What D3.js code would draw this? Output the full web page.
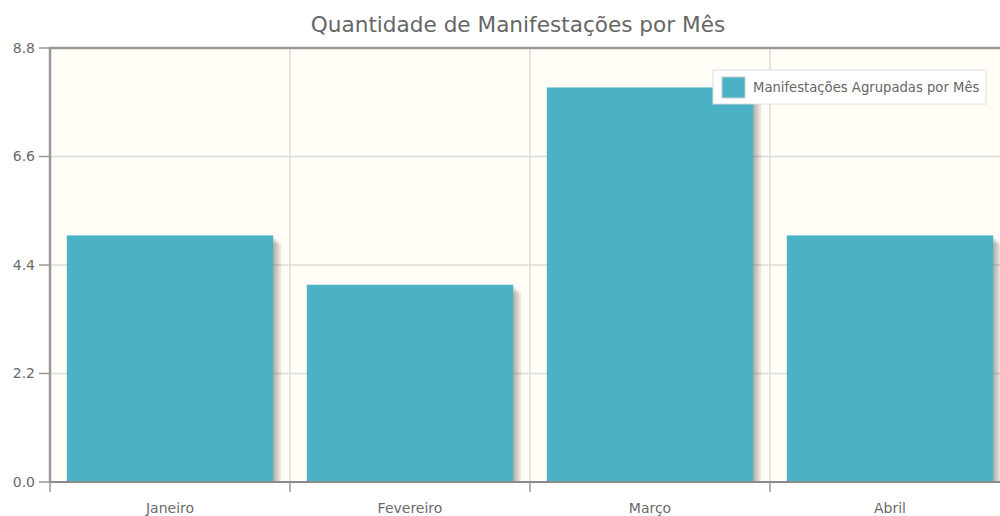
<!DOCTYPE html>
<html>
<head>
<meta charset="utf-8">
<script src="https://cdn.jsdelivr.net/npm/d3@7"></script>
<style>
  body { margin: 0; background: #fff; }
  #chart { width: 1000px; height: 516px; overflow: hidden; }
  text { font-family: "DejaVu Sans", sans-serif; }
</style>
</head>
<body>
<div id="chart"></div>
<script>
const months = ['Janeiro', 'Fevereiro', 'Março', 'Abril'];
const counts = [5, 4, 8, 5];
const yTicks = [0, 2.2, 4.4, 6.6, 8.8];
const seriesName = 'Manifestações Agrupadas por Mês';
const title = 'Quantidade de Manifestações por Mês';

const width = 1000;
const height = 516;
const plot = { left: 50, right: 1010, top: 48, bottom: 482 };
const barColor = '#4bb2c5';

const svg = d3.select('#chart').append('svg')
  .attr('width', width)
  .attr('height', height);

svg.append('defs').append('clipPath')
  .attr('id', 'plot-clip')
  .append('rect')
    .attr('x', plot.left)
    .attr('y', plot.top)
    .attr('width', plot.right - plot.left)
    .attr('height', plot.bottom - plot.top);

const x = d3.scaleBand()
  .domain(months)
  .range([plot.left, plot.right])
  .paddingInner(0.14)
  .paddingOuter(0.07);

const y = d3.scaleLinear()
  .domain([0, 8.8])
  .range([plot.bottom, plot.top]);

// plot background
svg.append('rect')
  .attr('x', plot.left)
  .attr('y', plot.top)
  .attr('width', plot.right - plot.left)
  .attr('height', plot.bottom - plot.top)
  .attr('fill', '#fffdf6');

// grid
const step = x.step();
const bounds = d3.range(1, months.length).map(i => plot.left + i * step);
svg.append('g').selectAll('line')
  .data(bounds)
  .join('line')
    .attr('x1', d => d).attr('x2', d => d)
    .attr('y1', plot.top).attr('y2', plot.bottom)
    .attr('stroke', '#dcdcd8')
    .attr('stroke-width', 1.5);

svg.append('g').selectAll('line')
  .data(yTicks.slice(1, -1))
  .join('line')
    .attr('x1', plot.left).attr('x2', plot.right)
    .attr('y1', d => y(d)).attr('y2', d => y(d))
    .attr('stroke', '#dcdcd8')
    .attr('stroke-width', 1.5);

// bar shadows (clipped to the plot area)
const shadow = svg.append('g').attr('clip-path', 'url(#plot-clip)');
[2, 4, 6, 8].forEach(off => {
  shadow.selectAll(null)
    .data(months)
    .join('rect')
      .attr('x', d => x(d) + off)
      .attr('y', (d, i) => y(counts[i]) + off)
      .attr('width', x.bandwidth())
      .attr('height', (d, i) => plot.bottom - y(counts[i]))
      .attr('fill', '#000')
      .attr('opacity', 0.08);
});

// bars
svg.append('g').selectAll('rect')
  .data(months)
  .join('rect')
    .attr('x', d => x(d))
    .attr('y', (d, i) => y(counts[i]))
    .attr('width', x.bandwidth())
    .attr('height', (d, i) => plot.bottom - y(counts[i]))
    .attr('fill', barColor);

// border
svg.append('path')
  .attr('d', `M${plot.left},${plot.bottom} V${plot.top} H${plot.right}`)
  .attr('fill', 'none')
  .attr('stroke', '#9a9a9a')
  .attr('stroke-width', 2.5);

svg.append('line')
  .attr('x1', plot.left).attr('x2', plot.right)
  .attr('y1', plot.bottom).attr('y2', plot.bottom)
  .attr('stroke', '#8a8a8a')
  .attr('stroke-width', 2);

// y axis ticks + labels
const yAxis = svg.append('g');
yAxis.selectAll('line')
  .data(yTicks)
  .join('line')
    .attr('x1', plot.left - 11).attr('x2', plot.left)
    .attr('y1', d => y(d)).attr('y2', d => y(d))
    .attr('stroke', '#999')
    .attr('stroke-width', 1.5);
yAxis.selectAll('text')
  .data(yTicks)
  .join('text')
    .attr('x', plot.left - 15)
    .attr('y', d => y(d))
    .attr('dy', '0.35em')
    .attr('text-anchor', 'end')
    .attr('font-size', 14)
    .attr('fill', '#6a6a6a')
    .text(d => d.toFixed(1));

// x axis ticks + labels
const xAxis = svg.append('g');
xAxis.selectAll('line')
  .data([plot.left].concat(bounds))
  .join('line')
    .attr('x1', d => d).attr('x2', d => d)
    .attr('y1', plot.bottom).attr('y2', plot.bottom + 10)
    .attr('stroke', '#999')
    .attr('stroke-width', 1.5);
xAxis.selectAll('text')
  .data(months)
  .join('text')
    .attr('x', d => x(d) + x.bandwidth() / 2)
    .attr('y', 513)
    .attr('text-anchor', 'middle')
    .attr('font-size', 14)
    .attr('fill', '#6a6a6a')
    .text(d => d);

// title
svg.append('text')
  .attr('x', 518)
  .attr('y', 32)
  .attr('text-anchor', 'middle')
  .attr('font-size', 21.6)
  .attr('fill', '#666')
  .text(title);

// legend
const legend = svg.append('g').attr('transform', 'translate(713,70)');
legend.append('rect')
  .attr('width', 273).attr('height', 34)
  .attr('fill', '#fff')
  .attr('stroke', '#ddd');
legend.append('rect')
  .attr('x', 9).attr('y', 7)
  .attr('width', 23).attr('height', 21)
  .attr('fill', barColor)
  .attr('stroke', '#ccc');
legend.append('text')
  .attr('x', 40).attr('y', 17)
  .attr('dy', '0.35em')
  .attr('font-size', 13.2)
  .attr('fill', '#666')
  .text(seriesName);
</script>
</body>
</html>
